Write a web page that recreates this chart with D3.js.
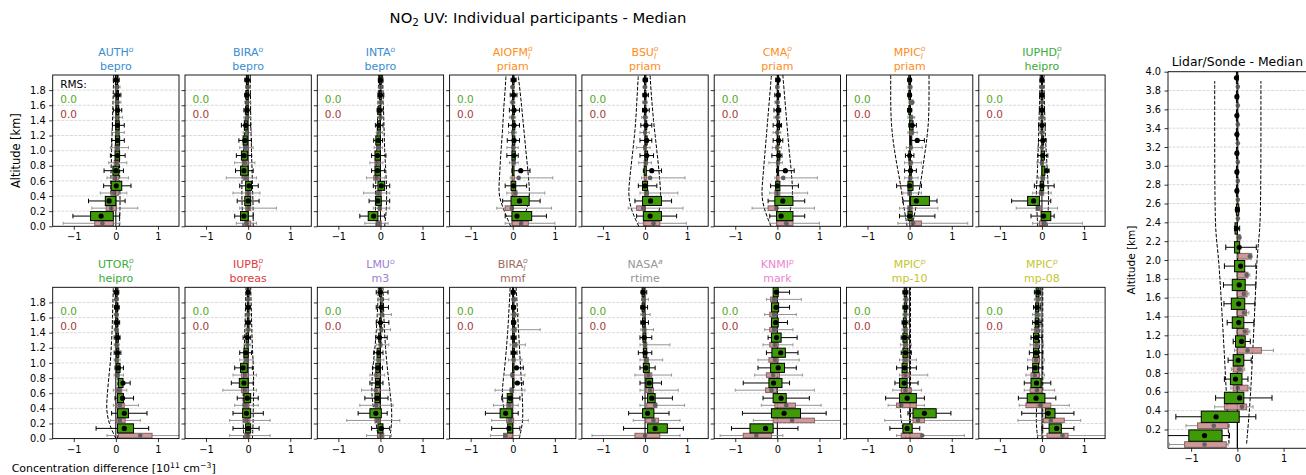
<!DOCTYPE html>
<html>
<head>
<meta charset="utf-8">
<script src="https://cdn.jsdelivr.net/npm/d3@7"></script>
<style>
body { margin: 0; background: #fff; }
svg { font-family: "DejaVu Sans", sans-serif; }
</style>
</head>
<body>
<svg id="chart" width="1306" height="475"></svg>
<script>
// layer centres [km]
const smallLayers = [0.1, 0.3, 0.5, 0.7, 0.9, 1.1, 1.3, 1.5, 1.7, 1.9];
const lidarLayers = [0.1, 0.3, 0.5, 0.7, 0.9, 1.1, 1.3, 1.5, 1.7, 1.9, 2.1, 2.3, 2.5, 2.7, 2.9, 3.1, 3.3, 3.5, 3.7, 3.9];
const envAlt = [0, 0.2, 0.4, 0.6, 0.8, 1.0, 1.2, 1.4, 1.6, 1.8, 2.0];

const panelLabels = ['AUTH', 'BIRA', 'INTA', 'AIOFM', 'BSU', 'CMA', 'MPIC', 'IUPHD', 'UTOR', 'IUPB', 'LMU', 'BIRA', 'NASA', 'KNMI', 'MPIC', 'MPIC'];
const panelSup = ['o', 'o', 'o', 'o', 'o', 'o', 'o', 'o', 'o', 'o', 'o', 'o', 'a', 'p', 'p', 'p'];
const panelSub = ['', '', '', 'l', 'l', 'l', 'l', 'l', 'l', 'l', '', 'l', '', '', '', ''];
const panelMethods = ['bepro', 'bepro', 'bepro', 'priam', 'priam', 'priam', 'priam', 'heipro', 'heipro', 'boreas', 'm3', 'mmf', 'rtime', 'mark', 'mp-10', 'mp-08'];
const methodColors = { 'bepro': '#3a8dd0', 'priam': '#ff8c1a', 'heipro': '#3aaa3a', 'boreas': '#e03a3a', 'm3': '#a07ed0', 'mmf': '#9c6a60', 'rtime': '#969696', 'mark': '#ea85cf', 'mp-10': '#c4c430', 'mp-08': '#c4c430' };
const rmsGreen = [0.0, 0.0, 0.0, 0.0, 0.0, 0.0, 0.0, 0.0, 0.0, 0.0, 0.0, 0.0, 0.0, 0.0, 0.0, 0.0];
const rmsBrown = [0.0, 0.0, 0.0, 0.0, 0.0, 0.0, 0.0, 0.0, 0.0, 0.0, 0.0, 0.0, 0.0, 0.0, 0.0, 0.0];

// each row: [mean, q1, q3, whisker low, whisker high]
const gAUTH = [[-0.35,-0.60,-0.06,-1.02,0.09],[-0.16,-0.25,0.00,-0.65,0.22],[0.01,-0.11,0.14,-0.29,0.36],[0.00,-0.07,0.07,-0.28,0.18],[0.04,-0.02,0.09,-0.13,0.22],[0.04,-0.01,0.09,-0.10,0.20],[0.04,0.00,0.08,-0.08,0.20],[0.04,0.01,0.07,-0.06,0.14],[0.04,0.02,0.06,-0.04,0.12],[0.01,-0.01,0.04,-0.06,0.08]];
const bAUTH = [[-0.32,-0.50,-0.06,-1.25,0.10],[-0.11,-0.23,0.01,-0.57,0.52],[-0.04,-0.11,0.06,-0.37,0.26],[-0.02,-0.07,0.06,-0.21,0.30],[0.02,-0.04,0.07,-0.17,0.26],[0.04,-0.02,0.08,-0.13,0.30],[0.04,0.00,0.08,-0.10,0.20],[0.04,0.01,0.07,-0.06,0.16],[0.04,0.01,0.06,-0.05,0.12],[0.03,0.01,0.05,-0.04,0.10]];
const eLAUTH = [-0.06,-0.10,-0.12,-0.12,-0.11,-0.10,-0.09,-0.08,-0.07,-0.06,-0.05];
const eRAUTH = [0.08,0.10,0.10,0.09,0.09,0.08,0.07,0.07,0.06,0.06,0.05];

const gBIRAo = [[-0.10,-0.18,0.00,-0.32,0.12],[0.00,-0.08,0.06,-0.26,0.26],[0.02,-0.06,0.08,-0.20,0.24],[-0.10,-0.18,0.00,-0.30,0.12],[-0.10,-0.16,-0.02,-0.28,0.08],[-0.08,-0.12,-0.02,-0.22,0.08],[-0.06,-0.09,-0.02,-0.16,0.06],[-0.03,-0.05,0.00,-0.10,0.05],[-0.03,-0.05,0.00,-0.08,0.05],[-0.02,-0.04,0.00,-0.08,0.05]];
const bBIRAo = [[-0.04,-0.08,0.06,-0.28,0.20],[0.00,-0.06,0.06,-0.20,0.67],[0.00,-0.06,0.06,-0.36,0.28],[-0.06,-0.12,0.00,-0.52,0.20],[-0.08,-0.14,0.00,-0.32,0.16],[-0.06,-0.10,0.00,-0.20,0.12],[-0.03,-0.06,0.00,-0.12,0.08],[-0.02,-0.04,0.01,-0.10,0.06],[-0.02,-0.04,0.01,-0.08,0.06],[-0.01,-0.03,0.01,-0.06,0.05]];
const eLBIRAo = [-0.12,-0.14,-0.15,-0.15,-0.13,-0.11,-0.09,-0.07,-0.06,-0.05,-0.04];
const eRBIRAo = [0.12,0.12,0.11,0.10,0.09,0.08,0.07,0.06,0.06,0.05,0.05];

const gINTA = [[-0.16,-0.29,-0.06,-0.49,0.10],[-0.06,-0.11,0.02,-0.27,0.22],[0.02,-0.06,0.10,-0.17,0.22],[-0.07,-0.13,0.00,-0.21,0.10],[-0.07,-0.13,0.00,-0.21,0.13],[-0.05,-0.11,0.00,-0.16,0.05],[-0.04,-0.07,0.00,-0.12,0.06],[-0.02,-0.04,0.01,-0.08,0.06],[0.00,-0.02,0.02,-0.06,0.08],[0.00,-0.02,0.02,-0.05,0.06]];
const bINTA = [[-0.05,-0.10,0.02,-0.37,0.18],[-0.02,-0.05,0.02,-0.17,0.22],[-0.05,-0.10,0.02,-0.40,0.22],[-0.09,-0.16,-0.02,-0.33,0.10],[-0.08,-0.13,-0.02,-0.25,0.06],[-0.05,-0.09,0.00,-0.15,0.05],[-0.03,-0.06,0.00,-0.10,0.05],[0.00,-0.02,0.02,-0.06,0.06],[0.01,-0.01,0.03,-0.05,0.07],[0.01,-0.01,0.02,-0.04,0.05]];
const eLINTA = [-0.10,-0.12,-0.12,-0.11,-0.10,-0.09,-0.08,-0.07,-0.06,-0.05,-0.04];
const eRINTA = [0.10,0.14,0.15,0.14,0.12,0.10,0.09,0.08,0.07,0.06,0.05];

const gAIOFM = [[0.10,-0.02,0.45,-0.18,0.80],[0.16,-0.04,0.39,-0.24,0.65],[0.02,-0.04,0.07,-0.18,0.33],[0.19,-0.01,0.03,-0.02,0.41],[0.03,-0.02,0.06,-0.14,0.13],[0.03,-0.01,0.05,-0.13,0.16],[0.03,0.00,0.05,-0.10,0.16],[0.03,0.00,0.04,-0.08,0.16],[0.02,0.00,0.03,-0.06,0.10],[0.02,0.00,0.03,-0.04,0.08]];
const bAIOFM = [[0.20,-0.02,0.37,-0.18,1.00],[-0.02,-0.18,0.00,-0.38,0.92],[0.06,-0.02,0.10,-0.14,0.76],[0.14,-0.02,0.04,-0.06,0.95],[0.03,-0.02,0.05,-0.08,0.13],[0.02,-0.02,0.04,-0.14,0.13],[0.01,-0.02,0.03,-0.10,0.08],[0.00,-0.02,0.02,-0.08,0.06],[0.00,-0.02,0.02,-0.06,0.05],[0.00,-0.01,0.02,-0.05,0.04]];
const eLAIOFM = [-0.05,-0.20,-0.34,-0.32,-0.30,-0.28,-0.25,-0.23,-0.21,-0.18,-0.16];
const eRAIOFM = [0.15,0.33,0.41,0.38,0.35,0.31,0.28,0.24,0.21,0.17,0.13];

const gBSU = [[0.12,-0.04,0.39,-0.20,0.75],[0.13,-0.06,0.39,-0.24,0.63],[0.00,-0.06,0.06,-0.16,0.28],[0.16,-0.02,0.03,-0.04,0.39],[0.04,0.00,0.06,-0.12,0.20],[0.04,0.00,0.05,-0.12,0.16],[0.02,0.00,0.04,-0.10,0.16],[0.00,-0.01,0.02,-0.06,0.10],[0.00,-0.01,0.02,-0.05,0.08],[0.00,-0.01,0.02,-0.04,0.06]];
const bBSU = [[0.20,-0.04,0.35,-0.16,0.98],[-0.04,-0.20,0.00,-0.40,0.90],[0.04,0.00,0.08,-0.12,0.78],[0.12,-0.02,0.04,-0.08,0.95],[0.02,-0.02,0.05,-0.15,0.15],[0.00,-0.03,0.03,-0.20,0.12],[0.00,-0.02,0.02,-0.12,0.10],[0.00,-0.02,0.02,-0.08,0.06],[0.00,-0.01,0.02,-0.06,0.05],[0.00,-0.01,0.01,-0.05,0.04]];
const eLBSU = [-0.15,-0.32,-0.40,-0.37,-0.33,-0.29,-0.25,-0.22,-0.20,-0.18,-0.16];
const eRBSU = [0.20,0.35,0.38,0.35,0.32,0.28,0.24,0.20,0.17,0.14,0.12];

const gCMA = [[0.09,-0.02,0.37,-0.18,0.65],[0.13,-0.06,0.37,-0.22,0.65],[0.00,-0.04,0.06,-0.16,0.50],[0.19,0.00,0.03,-0.02,0.40],[0.03,0.00,0.06,-0.13,0.11],[0.03,0.00,0.05,-0.10,0.13],[0.03,0.00,0.05,-0.10,0.10],[0.02,0.00,0.04,-0.08,0.08],[0.02,0.00,0.03,-0.06,0.06],[0.02,0.00,0.03,-0.04,0.05]];
const bCMA = [[0.21,-0.02,0.37,-0.18,1.00],[-0.02,-0.22,0.00,-0.60,0.88],[0.00,-0.06,0.06,-0.18,0.72],[0.14,-0.02,0.04,-0.06,0.95],[0.02,-0.02,0.04,-0.20,0.12],[0.00,-0.03,0.03,-0.12,0.10],[0.00,-0.02,0.02,-0.10,0.08],[0.00,-0.02,0.02,-0.08,0.06],[0.00,-0.01,0.02,-0.06,0.05],[0.00,-0.01,0.01,-0.04,0.04]];
const eLCMA = [-0.15,-0.30,-0.38,-0.35,-0.32,-0.29,-0.26,-0.23,-0.20,-0.17,-0.14];
const eRCMA = [0.25,0.30,0.37,0.35,0.32,0.28,0.25,0.22,0.19,0.16,0.13];

const gMPICo = [[0.00,-0.04,0.06,-0.24,0.60],[0.16,0.02,0.47,-0.16,0.65],[0.00,-0.04,0.08,-0.31,0.28],[0.02,0.00,0.04,-0.12,0.16],[0.00,-0.02,0.02,-0.10,0.10],[0.18,0.02,0.05,0.04,0.35],[0.06,0.00,0.08,-0.02,0.16],[0.00,-0.02,0.02,-0.05,0.05],[0.00,-0.02,0.02,-0.04,0.04],[0.00,-0.02,0.02,-0.04,0.04]];
const bMPICo = [[0.08,0.00,0.28,-0.28,1.38],[0.00,-0.04,0.06,-0.24,0.67],[0.00,-0.04,0.04,-0.16,0.28],[0.02,-0.02,0.04,-0.12,0.20],[0.03,-0.02,0.05,-0.12,0.28],[0.03,0.00,0.05,-0.08,0.30],[0.06,0.00,0.08,-0.04,0.18],[0.04,0.00,0.06,-0.04,0.12],[0.06,0.00,0.08,-0.02,0.10],[0.01,-0.01,0.03,-0.04,0.06]];
const eLMPICo = [-0.06,-0.12,-0.18,-0.23,-0.30,-0.36,-0.41,-0.44,-0.45,-0.45,-0.45];
const eRMPICo = [0.06,0.13,0.20,0.27,0.32,0.37,0.42,0.45,0.46,0.46,0.46];

const gIUPHD = [[0.04,-0.02,0.21,-0.26,0.29],[-0.20,-0.34,-0.06,-0.72,0.21],[0.00,-0.04,0.04,-0.18,0.29],[0.11,0.00,0.07,0.04,0.17],[0.02,-0.02,0.06,-0.10,0.14],[0.02,0.00,0.04,-0.08,0.10],[0.00,-0.02,0.02,-0.08,0.08],[0.00,-0.02,0.02,-0.06,0.06],[0.00,-0.02,0.02,-0.05,0.05],[0.00,-0.01,0.01,-0.04,0.04]];
const bIUPHD = [[0.05,-0.06,0.10,-0.22,0.96],[-0.09,-0.14,-0.02,-0.61,0.37],[-0.02,-0.06,0.04,-0.22,0.22],[0.02,-0.02,0.06,-0.08,0.14],[0.00,-0.03,0.03,-0.12,0.10],[0.00,-0.02,0.02,-0.10,0.08],[0.00,-0.02,0.02,-0.06,0.06],[0.00,-0.02,0.02,-0.05,0.05],[0.00,-0.01,0.01,-0.04,0.04],[0.00,-0.01,0.01,-0.04,0.04]];
const eLIUPHD = [-0.10,-0.12,-0.14,-0.12,-0.10,-0.09,-0.08,-0.07,-0.06,-0.05,-0.04];
const eRIUPHD = [0.12,0.15,0.16,0.14,0.12,0.10,0.08,0.07,0.06,0.05,0.05];

const gUTOR = [[0.20,0.04,0.42,-0.47,0.78],[0.20,0.04,0.30,-0.10,0.74],[0.16,0.04,0.18,-0.02,0.42],[0.17,0.06,0.17,0.06,0.34],[0.06,0.02,0.10,-0.02,0.18],[0.04,0.02,0.07,-0.04,0.12],[0.04,0.01,0.06,-0.04,0.10],[0.02,0.00,0.04,-0.04,0.09],[0.02,0.00,0.04,-0.03,0.08],[0.01,-0.01,0.03,-0.04,0.07]];
const bUTOR = [[0.58,0.06,0.86,-0.21,1.60],[0.10,0.02,0.22,-0.13,0.58],[0.10,0.02,0.20,-0.06,0.54],[0.08,0.02,0.14,-0.06,0.26],[0.04,0.00,0.08,-0.04,0.18],[0.02,0.00,0.04,-0.04,0.10],[0.02,0.00,0.04,-0.04,0.08],[0.01,-0.01,0.03,-0.04,0.06],[0.01,-0.01,0.03,-0.04,0.06],[0.01,-0.01,0.02,-0.03,0.05]];
const eLUTOR = [0.00,-0.17,-0.23,-0.20,-0.17,-0.13,-0.11,-0.09,-0.08,-0.07,-0.06];
const eRUTOR = [0.04,0.05,0.05,0.05,0.05,0.05,0.05,0.05,0.05,0.05,0.05];

const gIUPB = [[0.00,-0.06,0.06,-0.36,0.26],[-0.04,-0.13,0.06,-0.36,0.36],[-0.02,-0.10,0.06,-0.26,0.24],[-0.10,-0.21,0.00,-0.40,0.12],[-0.12,-0.18,-0.02,-0.32,0.10],[-0.06,-0.10,0.00,-0.20,0.08],[-0.02,-0.05,0.01,-0.12,0.06],[0.00,-0.02,0.02,-0.06,0.05],[0.00,-0.02,0.02,-0.05,0.05],[0.00,-0.02,0.02,-0.04,0.04]];
const bIUPB = [[-0.02,-0.08,0.04,-0.44,0.52],[-0.04,-0.10,0.04,-0.44,0.52],[-0.06,-0.12,0.02,-0.32,0.24],[-0.08,-0.16,0.00,-0.60,0.20],[-0.08,-0.16,0.00,-0.36,0.20],[-0.04,-0.08,0.00,-0.20,0.12],[-0.02,-0.04,0.01,-0.10,0.06],[0.00,-0.02,0.02,-0.06,0.05],[0.00,-0.02,0.02,-0.05,0.04],[0.00,-0.01,0.01,-0.04,0.04]];
const eLIUPB = [-0.10,-0.12,-0.12,-0.12,-0.11,-0.10,-0.09,-0.08,-0.07,-0.06,-0.05];
const eRIUPB = [0.10,0.12,0.12,0.13,0.13,0.12,0.10,0.09,0.08,0.07,0.06];

const gLMU = [[0.02,-0.06,0.06,-0.21,0.22],[-0.11,-0.25,0.02,-0.53,0.16],[-0.08,-0.13,-0.02,-0.37,0.18],[-0.07,-0.12,-0.02,-0.25,0.06],[-0.06,-0.11,-0.02,-0.19,0.05],[-0.04,-0.08,0.00,-0.16,0.06],[-0.02,-0.04,0.01,-0.11,0.16],[0.00,-0.02,0.02,-0.10,0.20],[0.02,0.00,0.04,-0.10,0.19],[0.00,-0.02,0.02,-0.10,0.18]];
const bLMU = [[0.02,-0.07,0.08,-0.33,0.26],[-0.06,-0.13,0.00,-0.80,0.46],[-0.10,-0.13,-0.02,-0.49,0.30],[-0.11,-0.13,-0.02,-0.45,0.22],[-0.09,-0.13,-0.02,-0.25,0.10],[-0.05,-0.08,0.00,-0.15,0.08],[0.00,-0.02,0.03,-0.10,0.20],[0.02,0.00,0.05,-0.08,0.24],[0.03,0.00,0.06,-0.06,0.26],[0.03,0.00,0.05,-0.06,0.20]];
const eLLMU = [-0.05,-0.10,-0.17,-0.21,-0.20,-0.17,-0.13,-0.10,-0.08,-0.06,-0.05];
const eRLMU = [0.22,0.27,0.27,0.23,0.19,0.15,0.12,0.10,0.08,0.07,0.06];

const gBIRAl = [[-0.09,-0.12,0.00,-0.50,0.17],[-0.17,-0.30,-0.02,-0.65,0.13],[-0.06,-0.13,-0.02,-0.26,0.17],[0.11,0.00,0.03,0.00,0.25],[0.09,0.00,0.03,0.00,0.25],[0.02,0.00,0.04,-0.04,0.10],[0.02,0.00,0.04,-0.04,0.08],[0.02,0.00,0.04,-0.03,0.07],[0.02,0.00,0.03,-0.03,0.06],[0.01,0.00,0.02,-0.03,0.05]];
const bBIRAl = [[-0.17,-0.22,0.00,-0.53,0.17],[-0.06,-0.14,0.02,-0.50,0.37],[-0.08,-0.14,0.00,-0.46,0.13],[-0.03,-0.06,0.02,-0.42,0.29],[-0.01,-0.04,0.03,-0.22,0.29],[0.02,0.00,0.05,-0.10,0.22],[0.06,0.02,0.10,-0.06,0.30],[0.04,0.01,0.08,-0.04,0.65],[0.04,0.01,0.07,-0.04,0.14],[0.03,0.00,0.05,-0.03,0.10]];
const eLBIRAl = [-0.02,-0.12,-0.22,-0.26,-0.22,-0.18,-0.15,-0.12,-0.10,-0.08,-0.06];
const eRBIRAl = [0.15,0.24,0.24,0.22,0.20,0.18,0.16,0.14,0.12,0.10,0.08];

const gNASA = [[0.24,0.06,0.53,-0.51,0.91],[0.06,-0.06,0.21,-0.39,0.57],[0.16,0.06,0.24,-0.06,0.65],[0.10,0.02,0.18,-0.12,0.39],[0.02,-0.04,0.10,-0.12,0.24],[0.00,-0.04,0.04,-0.16,0.16],[-0.02,-0.05,0.02,-0.12,0.16],[-0.04,-0.06,0.00,-0.10,0.08],[-0.05,-0.07,-0.02,-0.10,0.06],[-0.05,-0.07,-0.02,-0.09,0.04]];
const bNASA = [[0.00,-0.24,0.35,-1.26,0.83],[0.20,0.02,0.32,-0.28,0.83],[0.24,0.04,0.28,-0.12,0.94],[0.12,0.02,0.20,-0.12,0.79],[0.08,0.00,0.16,-0.24,0.63],[0.03,-0.02,0.08,-0.12,0.42],[0.00,-0.04,0.04,-0.12,0.59],[-0.02,-0.05,0.02,-0.10,0.20],[-0.03,-0.05,0.01,-0.10,0.12],[-0.04,-0.06,0.00,-0.08,0.08]];

const gKNMI = [[-0.28,-0.65,-0.10,-1.09,0.49],[0.16,-0.14,0.55,-0.83,1.16],[0.09,-0.10,0.21,-0.34,0.76],[-0.09,-0.20,0.11,-0.81,0.29],[0.02,-0.16,0.17,-0.46,0.45],[0.08,-0.13,0.19,-0.26,0.49],[-0.02,-0.14,0.09,-0.22,0.47],[-0.04,-0.14,0.02,-0.14,0.24],[-0.03,-0.14,0.03,-0.10,0.29],[-0.02,-0.10,0.02,-0.06,0.29]];
const bKNMI = [[-0.50,-0.81,-0.14,-1.36,0.13],[0.35,-0.10,0.88,-0.57,1.60],[0.21,-0.06,0.43,-0.38,1.04],[-0.14,-0.28,-0.02,-1.00,0.88],[-0.10,-0.26,0.05,-0.54,0.60],[-0.06,-0.20,0.02,-0.46,0.52],[-0.06,-0.18,0.02,-0.34,0.37],[-0.08,-0.18,-0.02,-0.30,0.37],[-0.08,-0.18,-0.02,-0.30,0.45],[-0.08,-0.16,-0.02,-0.26,0.57]];

const gMPIC10 = [[-0.06,-0.16,0.06,-0.47,0.24],[0.35,0.08,0.63,-0.04,0.98],[-0.06,-0.24,0.16,-0.57,0.35],[-0.13,-0.24,-0.06,-0.35,0.20],[-0.12,-0.18,-0.06,-0.31,0.16],[-0.10,-0.16,-0.04,-0.20,0.04],[-0.12,-0.16,-0.06,-0.20,-0.02],[-0.12,-0.15,-0.08,-0.18,-0.04],[-0.10,-0.13,-0.07,-0.16,-0.04],[-0.10,-0.13,-0.07,-0.16,-0.04]];
const bMPIC10 = [[0.30,-0.20,0.28,-0.31,1.30],[0.20,0.08,0.35,-0.59,1.50],[-0.20,-0.31,0.16,-0.51,0.35],[-0.10,-0.20,0.04,-0.40,0.28],[-0.10,-0.18,0.00,-0.24,0.43],[-0.10,-0.16,-0.04,-0.24,0.16],[-0.10,-0.15,-0.05,-0.22,0.04],[-0.10,-0.14,-0.06,-0.18,0.00],[-0.10,-0.13,-0.07,-0.16,-0.02],[-0.09,-0.12,-0.06,-0.15,-0.02]];
const eLMPIC10 = [-0.08,-0.20,-0.23,-0.20,-0.17,-0.15,-0.13,-0.12,-0.11,-0.10,-0.09];
const eRMPIC10 = [0.02,0.02,0.02,0.02,0.02,0.02,0.02,0.02,0.02,0.02,0.02];

const gMPIC08 = [[0.35,0.17,0.46,0.00,0.76],[0.15,0.08,0.31,-0.48,0.76],[-0.14,-0.35,0.07,-0.56,0.33],[-0.13,-0.26,-0.02,-0.42,0.21],[-0.16,-0.22,-0.08,-0.34,0.02],[-0.14,-0.20,-0.08,-0.30,0.02],[-0.13,-0.20,-0.08,-0.26,0.00],[-0.12,-0.16,-0.08,-0.22,-0.02],[-0.12,-0.15,-0.08,-0.20,-0.04],[-0.10,-0.14,-0.07,-0.18,-0.04]];
const bMPIC08 = [[0.49,0.12,0.62,-0.10,1.60],[0.21,0.04,0.53,-0.57,0.92],[-0.04,-0.38,0.21,-0.54,0.65],[-0.12,-0.28,0.00,-0.42,0.30],[-0.17,-0.26,-0.06,-0.38,0.06],[-0.14,-0.22,-0.06,-0.34,0.06],[-0.13,-0.20,-0.07,-0.28,0.04],[-0.12,-0.18,-0.07,-0.24,0.02],[-0.12,-0.16,-0.08,-0.22,0.00],[-0.10,-0.14,-0.07,-0.18,-0.02]];
const eLMPIC08 = [-0.10,-0.14,-0.13,-0.10,-0.08,-0.07,-0.06,-0.05,-0.05,-0.04,-0.04];
const eRMPIC08 = [0.02,0.02,0.02,0.02,0.02,0.02,0.02,0.02,0.02,0.02,0.02];

// Lidar/Sonde panel
const gLIDAR = [[-0.71,-1.05,-0.33,-1.70,-0.17],[-0.46,-0.78,0.04,-1.33,0.40],[0.05,-0.28,0.14,-0.47,0.75],[-0.04,-0.15,0.10,-0.28,0.23],[0.02,-0.09,0.14,-0.20,0.30],[0.09,-0.04,0.17,-0.09,0.28],[0.03,-0.11,0.14,-0.22,0.36],[0.03,-0.13,0.16,-0.29,0.38],[0.04,-0.11,0.17,-0.30,0.40],[0.07,-0.06,0.16,-0.28,0.40],[0.04,-0.06,0.05,-0.25,0.41],[-0.02,-0.05,0.00,-0.06,0.05],[0.00,-0.02,0.03,-0.04,0.04],[-0.01,-0.02,0.01,-0.03,0.02],[-0.01,-0.02,0.01,-0.02,0.02],[-0.01,-0.02,0.01,-0.02,0.02],[-0.01,-0.02,0.01,-0.02,0.02],[-0.01,-0.02,0.01,-0.02,0.02],[-0.01,-0.02,0.01,-0.02,0.02],[-0.02,-0.02,0.01,-0.02,0.02]];
const bLIDAR = [[-0.71,-1.14,-0.24,-1.47,-0.20],[-0.51,-0.86,-0.20,-1.11,-0.17],[0.10,-0.28,0.20,-0.49,0.34],[0.01,-0.09,0.23,-0.14,0.27],[0.05,-0.09,0.12,-0.13,0.16],[0.22,0.00,0.52,-0.06,0.78],[0.16,0.00,0.23,-0.02,0.27],[0.14,0.00,0.20,-0.02,0.25],[0.14,0.00,0.21,-0.02,0.25],[0.20,0.00,0.23,-0.02,0.27],[0.27,0.02,0.30,0.00,0.32],[0.04,0.00,0.06,-0.02,0.08],[0.01,0.00,0.02,-0.01,0.03],[0.01,0.00,0.02,-0.01,0.02],[0.01,0.00,0.02,-0.01,0.02],[0.01,0.00,0.02,-0.01,0.02],[0.01,0.00,0.02,-0.01,0.02],[0.01,0.00,0.02,-0.01,0.02],[0.01,0.00,0.02,-0.01,0.02],[0.01,0.00,0.02,-0.01,0.02]];
const lidarEnvAlt = [0.05, 0.5, 1.0, 1.5, 2.0, 2.2, 2.4, 3.0, 3.5, 3.9];
const eLLIDAR = [-0.18, -0.23, -0.28, -0.34, -0.40, -0.45, -0.48, -0.49, -0.49, -0.49];
const eRLIDAR = [0.20, 0.28, 0.33, 0.38, 0.42, 0.46, 0.50, 0.51, 0.51, 0.51];

const panelGreen = [gAUTH, gBIRAo, gINTA, gAIOFM, gBSU, gCMA, gMPICo, gIUPHD, gUTOR, gIUPB, gLMU, gBIRAl, gNASA, gKNMI, gMPIC10, gMPIC08];
const panelBrown = [bAUTH, bBIRAo, bINTA, bAIOFM, bBSU, bCMA, bMPICo, bIUPHD, bUTOR, bIUPB, bLMU, bBIRAl, bNASA, bKNMI, bMPIC10, bMPIC08];
const panelEnvL = [eLAUTH, eLBIRAo, eLINTA, eLAIOFM, eLBSU, eLCMA, eLMPICo, eLIUPHD, eLUTOR, eLIUPB, eLLMU, eLBIRAl, null, null, eLMPIC10, eLMPIC08];
const panelEnvR = [eRAUTH, eRBIRAo, eRINTA, eRAIOFM, eRBSU, eRCMA, eRMPICo, eRIUPHD, eRUTOR, eRIUPB, eRLMU, eRBIRAl, null, null, eRMPIC10, eRMPIC08];

const svg = d3.select('#chart');
const W = 126.3, H = 151.3, step = 132.3, left0 = 52.7;
const rowTop = [75, 287.3];
const greenOff = 0.035, brownOff = -0.06;

const greenStyle = { fill: '#3e9a06', stroke: '#000', wh: '#000', dot: '#000', bh: 0.12, cap: 0.06, r: 2.6, op: 1 };
const brownStyle = { fill: '#c98e8e', stroke: '#7a5252', wh: '#8a8a8a', dot: '#505050', bh: 0.06, cap: 0.04, r: 2.3, op: 0.9 };

function drawSeries(g, rows, alts, off, xs, ys, st) {
	const items = rows.map((r, i) => ({ m: r[0], q1: r[1], q3: r[2], lo: r[3], hi: r[4], a: alts[i] + off }));
	const grp = g.append('g').attr('opacity', st.op);
	grp.selectAll('line.wh')
		.data(items)
		.enter()
		.append('line')
		.attr('x1', d => xs(d.lo))
		.attr('x2', d => xs(d.hi))
		.attr('y1', d => ys(d.a))
		.attr('y2', d => ys(d.a))
		.attr('stroke', st.wh)
		.attr('stroke-width', 1);
	['lo', 'hi'].forEach(k => {
		grp.selectAll('line.cap' + k)
			.data(items)
			.enter()
			.append('line')
			.attr('x1', d => xs(d[k]))
			.attr('x2', d => xs(d[k]))
			.attr('y1', d => ys(d.a + st.cap / 2))
			.attr('y2', d => ys(d.a - st.cap / 2))
			.attr('stroke', st.wh)
			.attr('stroke-width', 1);
	});
	grp.selectAll('rect.box')
		.data(items)
		.enter()
		.append('rect')
		.attr('x', d => xs(d.q1))
		.attr('width', d => Math.max(0.5, xs(d.q3) - xs(d.q1)))
		.attr('y', d => ys(d.a + st.bh / 2))
		.attr('height', d => ys(d.a - st.bh / 2) - ys(d.a + st.bh / 2))
		.attr('fill', st.fill)
		.attr('stroke', st.stroke)
		.attr('stroke-width', 1);
	grp.selectAll('circle.dot')
		.data(items)
		.enter()
		.append('circle')
		.attr('cx', d => xs(d.m))
		.attr('cy', d => ys(d.a))
		.attr('r', st.r)
		.attr('fill', st.dot);
}

function drawEnvelope(g, alts, left, right, xs, ys) {
	const line = d3.line().x(d => xs(d[0])).y(d => ys(d[1])).curve(d3.curveBasis);
	[left, right].forEach(arr => {
		g.append('path')
			.attr('d', line(arr.map((v, i) => [v, alts[i]])))
			.attr('fill', 'none')
			.attr('stroke', '#000')
			.attr('stroke-width', 1)
			.attr('stroke-dasharray', '3.7,1.6');
	});
}

function grid(g, ticks, ys, w) {
	g.selectAll('line.grid')
		.data(ticks)
		.enter()
		.append('line')
		.attr('x1', 0)
		.attr('x2', w)
		.attr('y1', d => ys(d))
		.attr('y2', d => ys(d))
		.attr('stroke', '#cfcfcf')
		.attr('stroke-width', 0.8)
		.attr('stroke-dasharray', '3,1.3');
}

function styleAxis(a) {
	a.select('.domain').remove();
	a.selectAll('.tick line').attr('stroke', '#000').attr('stroke-width', 0.8);
	a.selectAll('.tick text').attr('fill', '#000').style('font-size', '9.8px').style('font-family', '"DejaVu Sans", sans-serif');
}

const x = d3.scaleLinear().domain([-1.5, 1.5]).range([0, W]);
const y = d3.scaleLinear().domain([0, 2]).range([H, 0]);
const yTicks = [0, 0.2, 0.4, 0.6, 0.8, 1.0, 1.2, 1.4, 1.6, 1.8];

panelLabels.forEach((name, i) => {
	const row = Math.floor(i / 8), col = i % 8;
	const g = svg.append('g').attr('transform', `translate(${left0 + col * step},${rowTop[row]})`);
	g.append('clipPath').attr('id', 'clip' + i).append('rect').attr('width', W).attr('height', H);
	const inner = g.append('g').attr('clip-path', `url(#clip${i})`);
	grid(inner, yTicks, y, W);
	if (panelEnvL[i]) drawEnvelope(inner, envAlt, panelEnvL[i], panelEnvR[i], x, y);
	inner.append('line').attr('x1', x(0)).attr('x2', x(0)).attr('y1', 0).attr('y2', H).attr('stroke', '#000').attr('stroke-width', 1);
	drawSeries(inner, panelBrown[i], smallLayers, brownOff, x, y, brownStyle);
	drawSeries(inner, panelGreen[i], smallLayers, greenOff, x, y, greenStyle);

	const ay = g.append('g').call(d3.axisLeft(y).tickValues(yTicks).tickSize(3.5).tickPadding(3.5)
		.tickFormat(col === 0 ? d3.format('.1f') : ''));
	styleAxis(ay);
	const ax = g.append('g').attr('transform', `translate(0,${H})`)
		.call(d3.axisBottom(x).tickValues([-1, 0, 1]).tickSize(3.5).tickPadding(3.5).tickFormat(d3.format('d')));
	styleAxis(ax);
	g.append('rect').attr('width', W).attr('height', H).attr('fill', 'none').attr('stroke', '#000').attr('stroke-width', 0.9);

	// titles
	const col1 = methodColors[panelMethods[i]];
	const t = g.append('text').attr('x', W / 2).attr('y', -19).attr('text-anchor', 'middle')
		.attr('fill', col1).style('font-size', '11px');
	t.append('tspan').text(name);
	if (panelSub[i]) {
		t.append('tspan').attr('dy', 2.5).style('font-size', '7.7px').style('font-style', 'italic').text(panelSub[i]);
		t.append('tspan').attr('dx', -2.2).attr('dy', -7.5).style('font-size', '7.7px').style('font-style', 'italic').text(panelSup[i]);
	} else {
		t.append('tspan').attr('dy', -4.5).style('font-size', '7.7px').style('font-style', 'italic').text(panelSup[i]);
	}
	g.append('text').attr('x', W / 2).attr('y', -5.5).attr('text-anchor', 'middle')
		.attr('fill', col1).style('font-size', '11px').text(panelMethods[i]);

	if (i === 0) {
		g.append('text').attr('x', 7.5).attr('y', 12.7).style('font-size', '10.5px').attr('fill', '#000').text('RMS:');
	}
	g.append('text').attr('x', 7.5).attr('y', 27.5).style('font-size', '10.5px').attr('fill', '#55a81e').text(d3.format('.1f')(rmsGreen[i]));
	g.append('text').attr('x', 7.5).attr('y', 42.5).style('font-size', '10.5px').attr('fill', '#a23c3c').text(d3.format('.1f')(rmsBrown[i]));
});

// Lidar/Sonde panel
const LW = 138.7, LH = 376.6;
const xl = d3.scaleLinear().domain([-1.5, 1.5]).range([0, LW]);
const yl = d3.scaleLinear().domain([0, 4]).range([LH, 0]);
const lTicks = d3.range(1, 21).map(k => k * 0.2);
const gl = svg.append('g').attr('transform', 'translate(1168,71.7)');
gl.append('clipPath').attr('id', 'clipL').append('rect').attr('width', LW).attr('height', LH);
const innerL = gl.append('g').attr('clip-path', 'url(#clipL)');
grid(innerL, lTicks, yl, LW);
drawEnvelope(innerL, lidarEnvAlt, eLLIDAR, eRLIDAR, xl, yl);
innerL.append('line').attr('x1', xl(0)).attr('x2', xl(0)).attr('y1', 0).attr('y2', LH).attr('stroke', '#000').attr('stroke-width', 1.3);
drawSeries(innerL, bLIDAR, lidarLayers, brownOff, xl, yl, brownStyle);
drawSeries(innerL, gLIDAR, lidarLayers, greenOff, xl, yl, greenStyle);
const aly = gl.append('g').call(d3.axisLeft(yl).tickValues(lTicks).tickSize(3.5).tickPadding(3.5).tickFormat(d3.format('.1f')));
styleAxis(aly);
const alx = gl.append('g').attr('transform', `translate(0,${LH})`)
	.call(d3.axisBottom(xl).tickValues([-1, 0, 1]).tickSize(3.5).tickPadding(3.5).tickFormat(d3.format('d')));
styleAxis(alx);
gl.append('path').attr('d', `M${LW},0H0V${LH}H${LW}`).attr('fill', 'none').attr('stroke', '#000').attr('stroke-width', 0.9);
gl.append('text').attr('x', LW / 2).attr('y', -6).attr('text-anchor', 'middle').style('font-size', '12.4px').text('Lidar/Sonde - Median');
gl.append('text').attr('transform', `translate(-33,${LH / 2}) rotate(-90)`).attr('text-anchor', 'middle')
	.style('font-size', '10.5px').text('Altitude [km]');

// figure texts
const title = svg.append('text').attr('x', 538).attr('y', 23).attr('text-anchor', 'middle').style('font-size', '14.8px');
title.append('tspan').text('NO');
title.append('tspan').attr('dy', 3).style('font-size', '10.4px').text('2');
title.append('tspan').attr('dy', -3).text(' UV: Individual participants - Median');

svg.append('text').attr('transform', `translate(20,${rowTop[0] + H / 2}) rotate(-90)`).attr('text-anchor', 'middle')
	.style('font-size', '11.4px').text('Altitude [km]');

const xl2 = svg.append('text').attr('x', 11.7).attr('y', 472).style('font-size', '11px');
xl2.append('tspan').text('Concentration difference [10');
xl2.append('tspan').attr('dy', -4.5).style('font-size', '7.7px').text('11');
xl2.append('tspan').attr('dy', 4.5).text(' cm');
xl2.append('tspan').attr('dy', -4.5).style('font-size', '7.7px').text('\u22123');
xl2.append('tspan').attr('dy', 4.5).text(']');
</script>
</body>
</html>
